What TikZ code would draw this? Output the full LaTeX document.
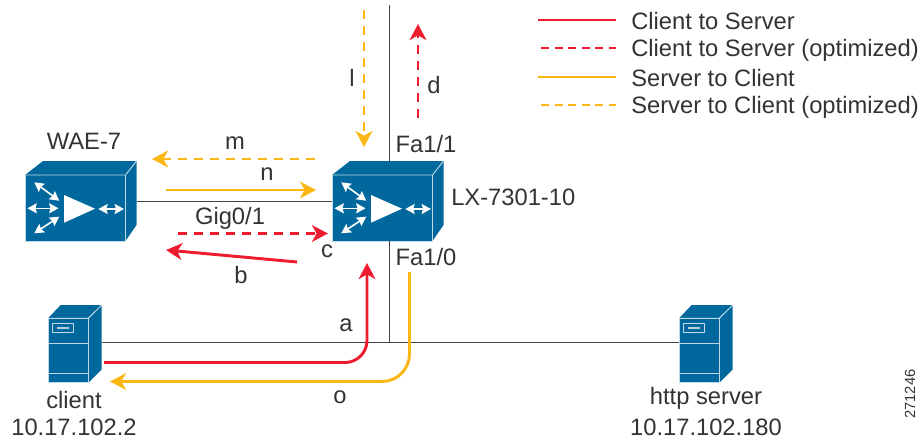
\documentclass[tikz,border=0pt]{standalone}
\usepackage{fontspec}
\setmainfont{Liberation Sans}
\usetikzlibrary{arrows.meta}
\definecolor{devblue}{HTML}{00689D}
\definecolor{flowred}{HTML}{ED1C2E}
\definecolor{flowyel}{HTML}{FDB714}
\definecolor{txt}{HTML}{333333}
\definecolor{wire}{HTML}{444444}
\tikzset{
  lbl/.style={text=txt,font=\fontsize{17.8}{20}\selectfont,inner sep=0pt},
  devnode/.style={inner sep=0pt,outer sep=0pt,minimum width=#1},
  wireline/.style={draw=wire,line width=0.7pt},
  flow/.style={line width=2.2pt,-{Stealth[length=12pt,width=12.5pt,inset=3.5pt]}},
  redsolid/.style={flow,draw=flowred},
  reddash/.style={flow,draw=flowred,dash pattern=on 7pt off 5pt},
  yelsolid/.style={flow,draw=flowyel},
  yeldash/.style={flow,draw=flowyel,dash pattern=on 7pt off 5pt},
  leg/.style={line width=2pt},
  devedge/.style={draw=white!75!devblue,line width=0.7pt,line join=round},
  iconarrow/.style={draw=white,line width=1.2pt,{Stealth[length=7pt,width=7.5pt,inset=1pt]}-{Stealth[length=7pt,width=7.5pt,inset=1pt]}},
}
% box device: #1,#2 = top-left of front face
\newcommand{\boxdevice}[2]{%
  \begin{scope}[shift={(#1,#2)}]
    \fill[devblue] (0,0) -- (18,-14) -- (111.5,-14) -- (111.5,50) -- (100.5,66) -- (0,66) -- cycle;
    \draw[devedge] (0,0) -- (100.5,0) -- (111.5,-14);
    \draw[devedge] (100.5,0) -- (100.5,66) -- (0,66) -- (0,0);
    \draw[iconarrow] (9.3,7.3) -- (34.3,25.7);
    \draw[iconarrow] (2.5,33.3) -- (33.5,33.3);
    \draw[iconarrow] (34.3,41.7) -- (9.3,58.3);
    \fill[white] (39,20) -- (39,47.7) -- (70,33.7) -- cycle;
    \draw[iconarrow] (73.3,34) -- (99,34);
  \end{scope}}
% tower device: #1,#2 = top-left of front face
\newcommand{\towerdevice}[2]{%
  \begin{scope}[shift={(#1,#2)}]
    \fill[devblue] (0,0) -- (12.7,-13.3) -- (53.7,-13.3) -- (53.7,51) -- (40.3,64.4) -- (0,64.4) -- cycle;
    \draw[devedge] (0,0) -- (40.3,0) -- (53.7,-13.3);
    \draw[devedge] (40.3,0) -- (40.3,64.4) -- (0,64.4) -- (0,0);
    \draw[devedge] (0,25) -- (40.3,25);
    \draw[devedge] (0,55) -- (40.3,55);
    \draw[devedge] (4.3,5) rectangle (25.7,14);
    \fill[white!70!devblue] (8.7,8.5) rectangle (21.3,10.5);
  \end{scope}}
\begin{document}
\begin{tikzpicture}[x=0.75pt,y=-0.75pt]
\useasboundingbox (0,0) rectangle (923,439);
% devices
\boxdevice{25}{175}
\boxdevice{332}{175}
\towerdevice{48}{318.3}
\towerdevice{679}{318.3}
% anchor nodes
\node[devnode=84pt,minimum height=60pt] (wae) at (81,201) {};
\node[devnode=85.5pt,minimum height=60pt] (lx) at (389,201) {};
\node[devnode=40.5pt,minimum height=58pt] (client) at (75,344) {};
\node[devnode=40.5pt,minimum height=58pt] (server) at (706,344) {};
\coordinate (top) at (389,5);
\coordinate (bus) at (389,342);
% wires
\draw[wireline] (wae.east) -- (lx.west);
\draw[wireline] (lx.north) -- (top);
\draw[wireline] (lx.south) -- (bus);
\draw[wireline] ([yshift=1.5pt]client.east) -- ([yshift=1.5pt]server.west);
% flows
\coordinate (a0) at (104,362.5); \coordinate (a1) at (367,263);
\draw[redsolid] (a0) -- (345,362.5) arc[start angle=90,end angle=0,radius=22] -- (a1);
\coordinate (o0) at (409.5,272); \coordinate (o1) at (110,381.5);
\draw[yelsolid] (o0) -- (409.5,354) arc[start angle=0,end angle=90,radius=27.5] -- (o1);
\coordinate (l0) at (364,10); \coordinate (l1) at (364,147);
\draw[yeldash] (l0) -- (l1);
\coordinate (d0) at (418,118); \coordinate (d1) at (418,24);
\draw[reddash] (d0) -- (d1);
\coordinate (m0) at (315,159); \coordinate (m1) at (152,159);
\draw[yeldash] (m0) -- (m1);
\coordinate (n0) at (166,190); \coordinate (n1) at (316,190);
\draw[yelsolid] (n0) -- (n1);
\coordinate (c0) at (178,233.5); \coordinate (c1) at (328,233.5);
\draw[reddash] (c0) -- (c1);
\coordinate (b0) at (297,262); \coordinate (b1) at (166,250);
\draw[redsolid] (b0) -- (b1);
% labels
\node[lbl] (t1) at (84,141) {WAE-7};
\node[lbl] (t2) at (235,143) {m};
\node[lbl] (t3) at (267,174) {n};
\node[lbl] (t4) at (230,218) {Gig0/1};
\node[lbl] (t5) at (327,251) {c};
\node[lbl] (t6) at (241,275) {b};
\node[lbl] (t7) at (346,325) {a};
\node[lbl] (t8) at (340,397) {o};
\node[lbl] (t9) at (352,78) {l};
\node[lbl] (t10) at (434,85) {d};
\node[lbl] (t11) at (426,144) {Fa1/1};
\node[lbl] (t12) at (426,257) {Fa1/0};
\node[lbl,anchor=west] (t13) at (451,197) {LX-7301-10};
\node[lbl] (t14) at (74,400) {client};
\node[lbl] (t15) at (74,427) {10.17.102.2};
\node[lbl] (t16) at (706,398) {http server};
\node[lbl] (t17) at (706,427) {10.17.102.180};
\node[lbl,rotate=90,font=\fontsize{11}{13}\selectfont] (t18) at (910,394) {271246};
% legend
\node[lbl,anchor=west] (k1) at (631,21) {Client to Server};
\node[lbl,anchor=west] (k2) at (631,50) {Client to Server (optimized)};
\node[lbl,anchor=west] (k3) at (631,78) {Server to Client};
\node[lbl,anchor=west] (k4) at (631,107) {Server to Client (optimized)};
\coordinate (s1) at (538,20); \coordinate (s2) at (616,20);
\draw[leg,flowred] (s1) -- (s2);
\coordinate (s3) at (541,48); \coordinate (s4) at (616,48);
\draw[leg,flowred,dash pattern=on 6pt off 4.2pt] (s3) -- (s4);
\coordinate (s5) at (538,77); \coordinate (s6) at (616,77);
\draw[leg,flowyel] (s5) -- (s6);
\coordinate (s7) at (541,105); \coordinate (s8) at (616,105);
\draw[leg,flowyel,dash pattern=on 6pt off 4.2pt] (s7) -- (s8);
\end{tikzpicture}
\end{document}
